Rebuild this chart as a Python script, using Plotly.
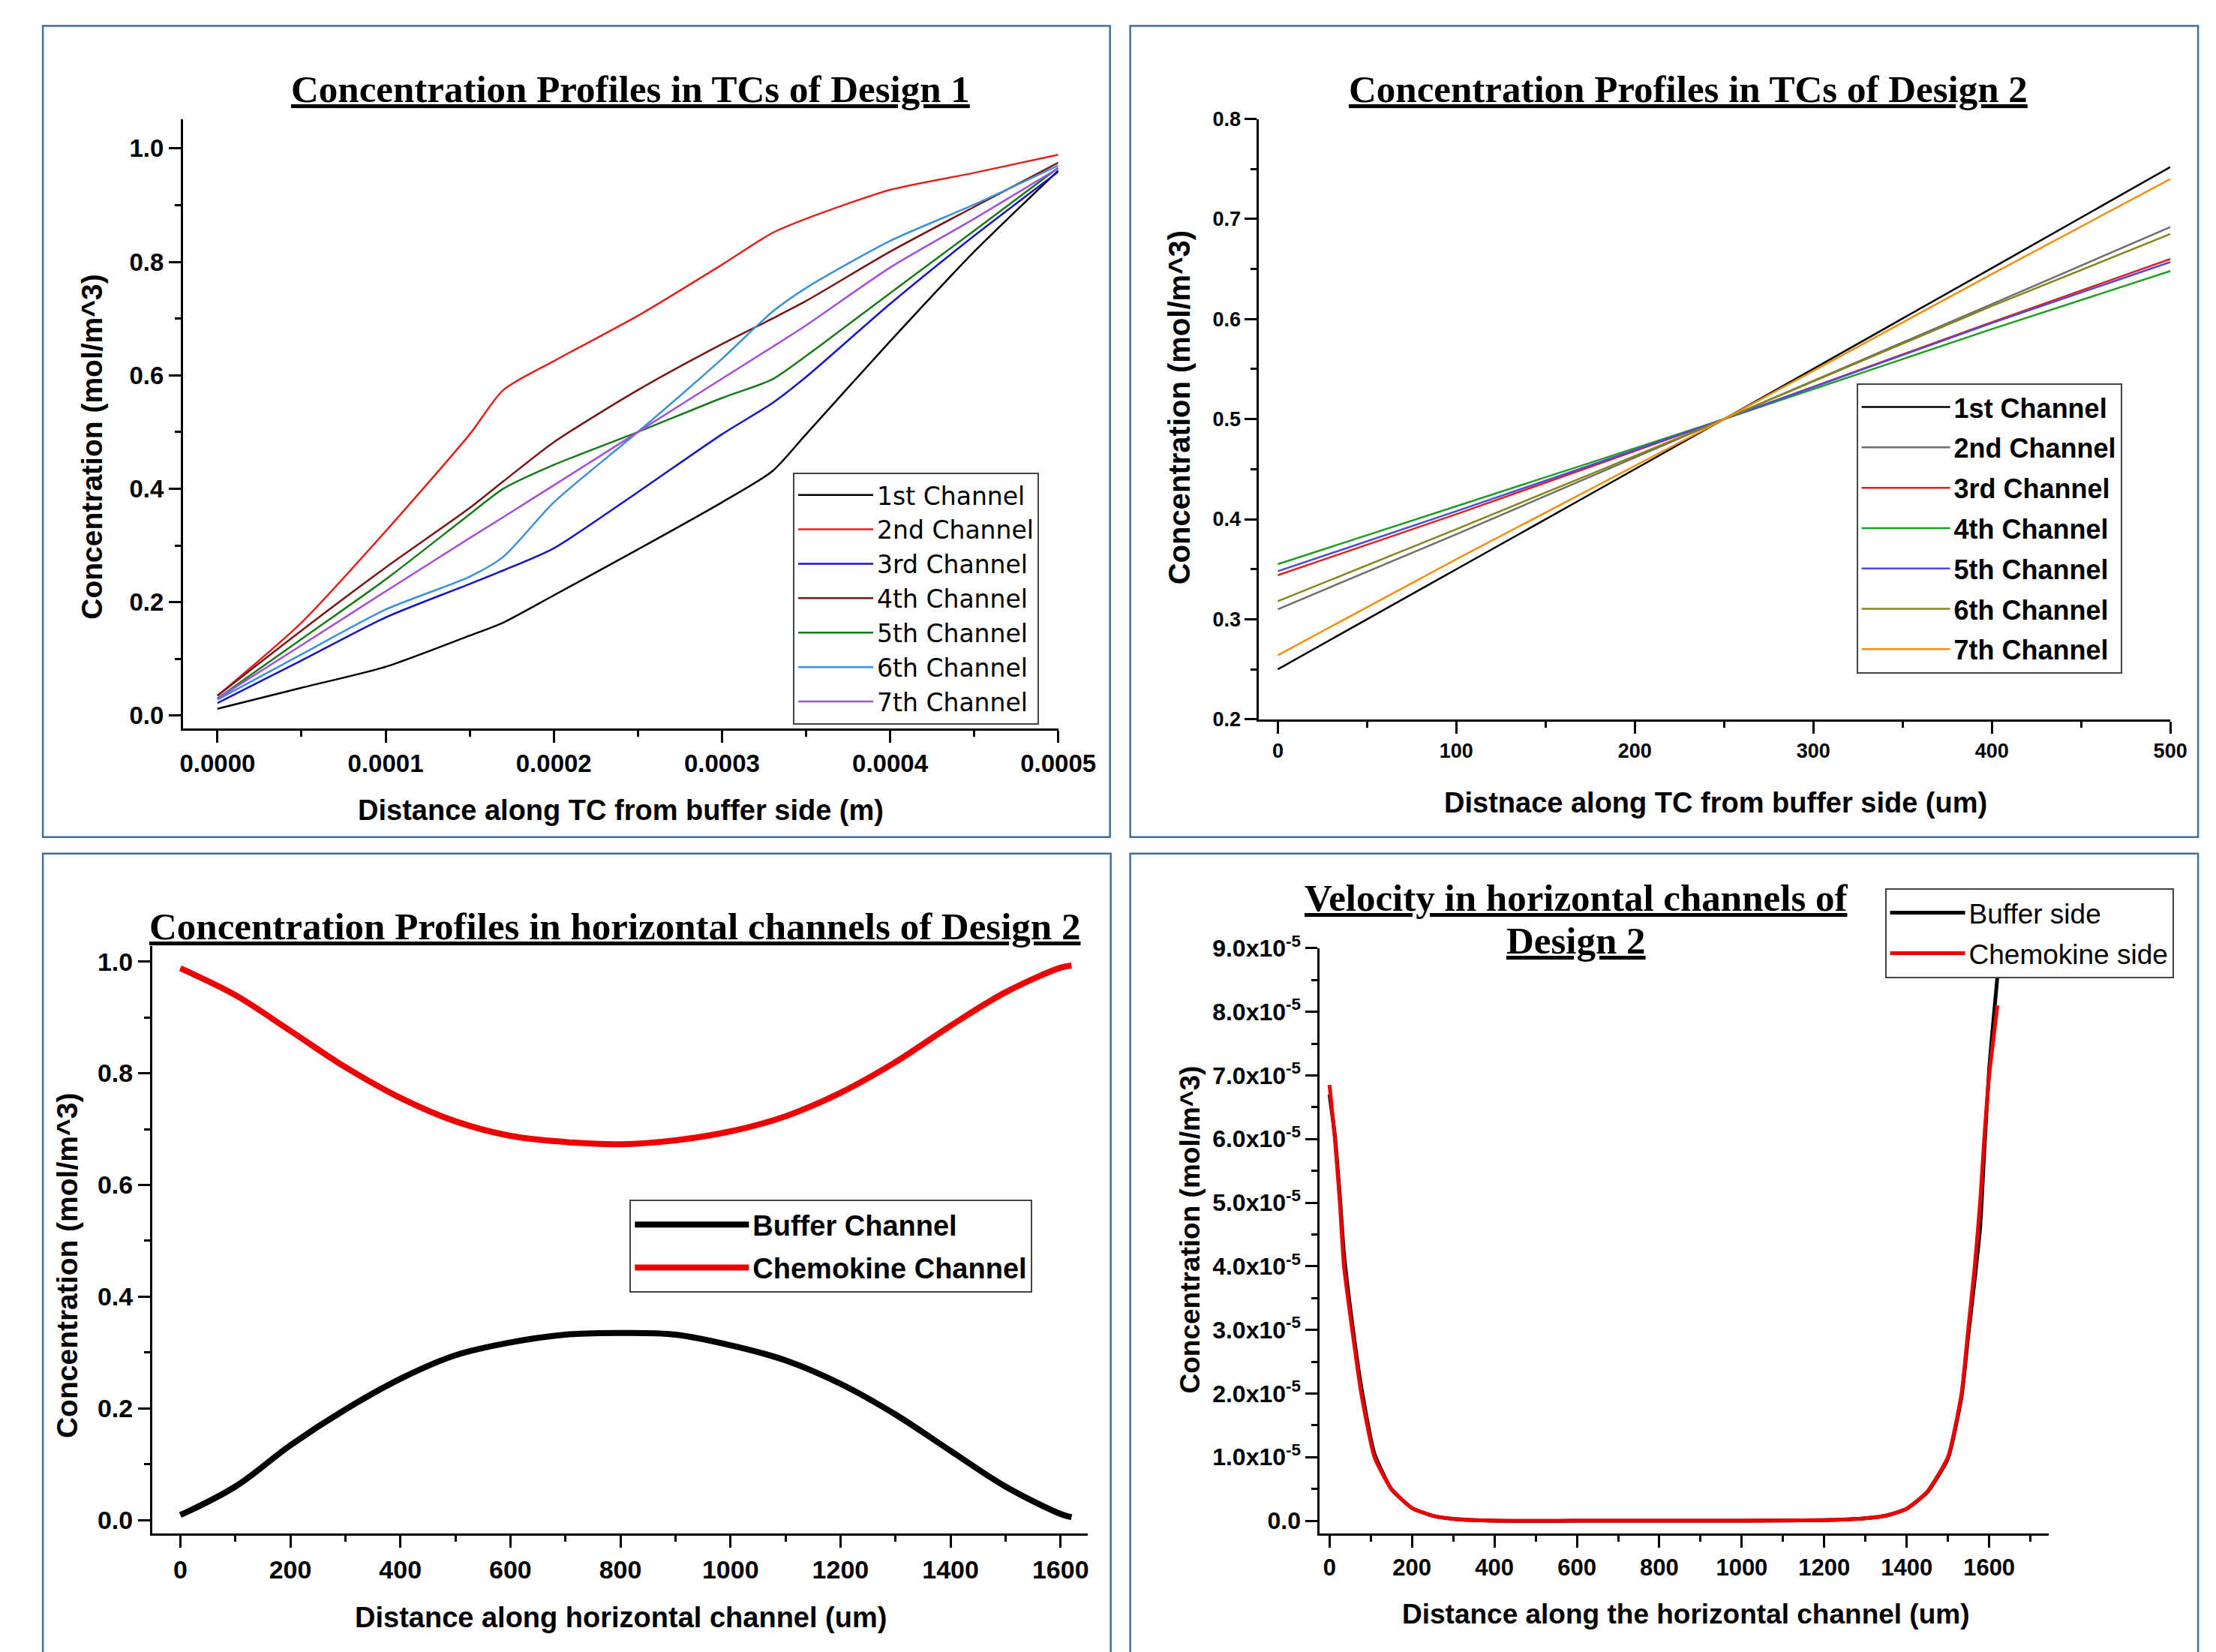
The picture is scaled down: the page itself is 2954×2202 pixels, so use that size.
import plotly.graph_objects as go

# Target canvas (reference pixels)
W, H = 2954, 2202
# Empirical page rendering: rendered = SC * (figure_px + offset)
SC, OX, OY = 0.983, 11, 32
FW, FH = round(W / SC - OX), round(H / SC - OY)

# ---------------- data ----------------
# Panel 1: Concentration profiles in TCs of Design 1 (x in m)
d1_x = [0, 0.00005, 0.0001, 0.00015, 0.00017, 0.0002, 0.00025, 0.0003, 0.00033, 0.00035, 0.0004, 0.00045, 0.0005]
d1_names = ["1st Channel", "2nd Channel", "3rd Channel", "4th Channel", "5th Channel", "6th Channel", "7th Channel"]
d1_ch1 = [0.012, 0.049, 0.086, 0.141, 0.164, 0.212, 0.293, 0.376, 0.431, 0.496, 0.660, 0.818, 0.961]
d1_ch2 = [0.035, 0.164, 0.325, 0.496, 0.574, 0.625, 0.705, 0.795, 0.851, 0.876, 0.927, 0.957, 0.989]
d1_ch3 = [0.022, 0.097, 0.173, 0.232, 0.256, 0.295, 0.394, 0.496, 0.551, 0.597, 0.726, 0.846, 0.959]
d1_ch4 = [0.035, 0.150, 0.261, 0.366, 0.413, 0.482, 0.574, 0.655, 0.700, 0.731, 0.818, 0.897, 0.975]
d1_ch5 = [0.030, 0.135, 0.240, 0.355, 0.400, 0.442, 0.500, 0.560, 0.593, 0.634, 0.745, 0.855, 0.966]
d1_ch6 = [0.028, 0.108, 0.187, 0.245, 0.280, 0.376, 0.500, 0.629, 0.712, 0.754, 0.837, 0.901, 0.970]
d1_ch7 = [0.030, 0.124, 0.219, 0.313, 0.350, 0.406, 0.500, 0.594, 0.650, 0.688, 0.790, 0.876, 0.965]
d1_colors = ["#000000", "#e3211c", "#1515c8", "#7b1515", "#177a17", "#3a90da", "#a24fe0"]

# Panel 2: Concentration profiles in TCs of Design 2 (x in um)
d2_x = [0, 100, 250, 400, 500]
d2_names = d1_names
d2_ch1 = [0.250, 0.350, 0.500, 0.651, 0.752]
d2_ch2 = [0.310, 0.385, 0.500, 0.615, 0.692]
d2_ch3 = [0.344, 0.405, 0.500, 0.597, 0.660]
d2_ch4 = [0.355, 0.413, 0.500, 0.590, 0.648]
d2_ch5 = [0.348, 0.408, 0.500, 0.596, 0.657]
d2_ch6 = [0.318, 0.390, 0.500, 0.613, 0.685]
d2_ch7 = [0.264, 0.360, 0.500, 0.645, 0.740]
d2_colors = ["#000000", "#6e6e6e", "#e01f1f", "#1f9e1f", "#4b4bdc", "#85851a", "#f0900c"]

# Panel 3: Concentration profiles in horizontal channels of Design 2
d3_x = [0, 100, 200, 300, 400, 500, 600, 700, 800, 900, 1000, 1100, 1200, 1300, 1400, 1500, 1600, 1620]
d3_buffer = [0.009, 0.060, 0.134, 0.198, 0.253, 0.295, 0.318, 0.332, 0.335, 0.332, 0.313, 0.286, 0.244, 0.189, 0.124, 0.060, 0.011, 0.005]
d3_chemokine = [0.988, 0.940, 0.876, 0.811, 0.756, 0.714, 0.688, 0.677, 0.673, 0.680, 0.696, 0.723, 0.765, 0.820, 0.885, 0.945, 0.989, 0.993]
d3_names = ["Buffer Channel", "Chemokine Channel"]

# Panel 4: Velocity in horizontal channels of Design 2 (values in units of 1e-5)
d4_x = [0, 13, 25, 35, 55, 77, 109, 150, 200, 250, 300, 400, 600, 800, 1000, 1200, 1300, 1350, 1400,
        1450, 1500, 1533, 1549, 1565, 1578, 1588, 1600, 1620]
d4_buffer = [6.70, 6.05, 5.10, 4.20, 3.10, 2.10, 1.05, 0.50, 0.20, 0.08, 0.03, 0.0, 0.0, 0.0, 0.0, 0.01, 0.04, 0.08, 0.19,
             0.45, 0.98, 1.95, 2.90, 3.80, 4.60, 5.80, 7.10, 8.55]
d4_chemokine = [6.85, 6.00, 5.00, 4.00, 3.00, 2.00, 1.00, 0.50, 0.20, 0.08, 0.03, 0.0, 0.0, 0.0, 0.0, 0.01, 0.04, 0.08, 0.19,
                0.46, 1.00, 2.00, 3.00, 4.00, 5.00, 6.00, 7.00, 8.10]
d4_scale = 1e-5
d4_names = ["Buffer side", "Chemokine side"]
d4_yticks = [0, 1, 2, 3, 4, 5, 6, 7, 8, 9]

# ---------------- helpers (target pixel -> paper fraction) ----------------
def fx(p):
    return (p / SC - OX) / FW

def fy(p):
    return 1 - (p / SC - OY) / FH

SANS = "Liberation Sans, Arial, sans-serif"
WIDE = "DejaVu Sans, Verdana, sans-serif"
SERIF = "Liberation Serif, Times New Roman, serif"

fig = go.Figure()

d1_series = [d1_ch1, d1_ch2, d1_ch3, d1_ch4, d1_ch5, d1_ch6, d1_ch7]
for name, ys, c in zip(d1_names, d1_series, d1_colors):
    fig.add_trace(go.Scatter(x=d1_x, y=ys, name=name, mode="lines",
                             line=dict(color=c, width=2.5, shape="spline", smoothing=0.7),
                             xaxis="x", yaxis="y", legend="legend", legendgroup="a" + name))

d2_series = [d2_ch1, d2_ch2, d2_ch3, d2_ch4, d2_ch5, d2_ch6, d2_ch7]
for name, ys, c in zip(d2_names, d2_series, d2_colors):
    fig.add_trace(go.Scatter(x=d2_x, y=ys, name=name, mode="lines",
                             line=dict(color=c, width=2.5, shape="spline", smoothing=0.5),
                             xaxis="x2", yaxis="y2", legend="legend2", legendgroup="b" + name))

for name, ys, c in zip(d3_names, [d3_buffer, d3_chemokine], ["#000000", "#ee0000"]):
    fig.add_trace(go.Scatter(x=d3_x, y=ys, name=name, mode="lines",
                             line=dict(color=c, width=8, shape="spline", smoothing=1.0),
                             xaxis="x3", yaxis="y3", legend="legend3", legendgroup="c" + name))

for name, ys, c in zip(d4_names, [d4_buffer, d4_chemokine], ["#000000", "#ee0000"]):
    fig.add_trace(go.Scatter(x=d4_x, y=[v * d4_scale for v in ys], name=name, mode="lines",
                             line=dict(color=c, width=5, shape="spline", smoothing=0.5),
                             xaxis="x4", yaxis="y4", legend="legend4", legendgroup="d" + name))

# ---------------- axes ----------------
def axis(domain, rng, anchor, dtick, minor_dtick, fsize, **kw):
    d = dict(domain=domain, range=rng, anchor=anchor, showline=True, linecolor="black", linewidth=3,
             ticks="outside", ticklen=16, tickwidth=3, tickcolor="black", showgrid=False, zeroline=False,
             tick0=0,
             minor=dict(ticks="outside", ticklen=8, tickwidth=3, tickcolor="black", dtick=minor_dtick, tick0=0, showgrid=False),
             tickfont=dict(family=SANS, size=fsize, color="black", weight="bold"))
    if dtick is not None:
        d["dtick"] = dtick
    d.update(kw)
    return d

layout = dict(
    width=FW, height=FH, margin=dict(l=0, r=0, t=0, b=0, pad=0),
    paper_bgcolor="white", plot_bgcolor="white", showlegend=True,
    xaxis=axis([fx(243), fx(1411)], [-0.0000205, 0.0005], "y", 0.0001, 0.00005, 33, tickformat=".4f"),
    yaxis=axis([fy(972), fy(160)], [-0.0225, 1.052], "x", 0.2, 0.1, 33, tickformat=".1f"),
    xaxis2=axis([fx(1679), fx(2895)], [-10.5, 500], "y2", 100, 50, 27),
    yaxis2=axis([fy(960), fy(160)], [0.2, 0.8], "x2", 0.1, 0.05, 27, tickformat=".1f"),
    xaxis3=axis([fx(202), fx(1450)], [-51, 1649], "y3", 200, 100, 34),
    yaxis3=axis([fy(2045), fy(1262)], [-0.024, 1.028], "x3", 0.2, 0.1, 34, tickformat=".1f"),
    xaxis4=axis([fx(1760), fx(2733)], [-23.6, 1745], "y4", 200, 100, 31),
    yaxis4=axis([fy(2045), fy(1265)], [-0.2e-5, 9.0e-5], "x4", None, 0.5e-5, 32,
                tickmode="array", tickvals=[v * d4_scale for v in d4_yticks],
                ticktext=["0.0"] + ["%d.0x10<sup>-5</sup>" % v for v in d4_yticks[1:]]),
)

def legend(x, y, family, fsize, bold, itemwidth, gap):
    return dict(x=fx(x), y=fy(y), xanchor="left", yanchor="top", xref="paper", yref="paper",
                bgcolor="white", bordercolor="#444444", borderwidth=2, itemwidth=itemwidth,
                tracegroupgap=gap, traceorder="grouped",
                font=dict(family=family, size=fsize, color="black", weight="bold" if bold else "normal"))

layout["legend"] = legend(1057, 631, WIDE, 33, False, 100, 0)
layout["legend2"] = legend(2476, 512, SANS, 36, True, 118, 4)
layout["legend3"] = legend(839, 1600, SANS, 38, True, 152, 5)
layout["legend4"] = legend(2514, 1185, SANS, 37, False, 100, 3)

# ---------------- annotations ----------------
ann = []
def title(text, x, y, size=51):
    ann.append(dict(text="<b><u>%s</u></b>" % text, x=fx(x), y=fy(y), xref="paper", yref="paper",
                    xanchor="center", yanchor="middle", showarrow=False,
                    font=dict(family=SERIF, size=size, color="black")))

def atitle(text, x, y, size, angle=0):
    ann.append(dict(text="<b>%s</b>" % text, x=fx(x), y=fy(y), xref="paper", yref="paper",
                    xanchor="center", yanchor="middle", showarrow=False, textangle=angle,
                    font=dict(family=SANS, size=size, color="black")))

title("Concentration Profiles in TCs of Design 1", 840, 120)
title("Concentration Profiles in TCs of Design 2", 2252, 120)
title("Concentration Profiles in horizontal channels of Design 2", 819, 1236)
title("Velocity in horizontal channels of", 2102, 1198)
title("Design 2", 2102, 1255)

atitle("Concentration (mol/m^3)", 122, 597, 39, -90)
atitle("Distance along TC from buffer side (m)", 827, 1081, 38)
atitle("Concentration (mol/m^3)", 1572, 545, 40, -90)
atitle("Distnace along TC from buffer side (um)", 2288, 1071, 38)
atitle("Concentration (mol/m^3)", 89, 1688, 39, -90)
atitle("Distance along horizontal channel (um)", 827, 2157, 38)
atitle("Concentration (mol/m^3)", 1587, 1640, 37, -90)
atitle("Distance along the horizontal channel (um)", 2249, 2152, 37)

layout["annotations"] = ann

# ---------------- panel borders ----------------
shapes = []
for (x0, y0, x1, y1) in [(56, 36, 1480, 1117), (1507, 36, 2932, 1117), (56, 1139, 1481, 2260), (1507, 1139, 2932, 2260)]:
    shapes.append(dict(type="rect", xref="paper", yref="paper", x0=fx(x0), x1=fx(x1), y0=fy(y1), y1=fy(y0),
                       line=dict(color="#41709a", width=2.5), fillcolor="rgba(0,0,0,0)", layer="below"))
layout["shapes"] = shapes

fig.update_layout(**layout)
fig.write_html("out.html")
